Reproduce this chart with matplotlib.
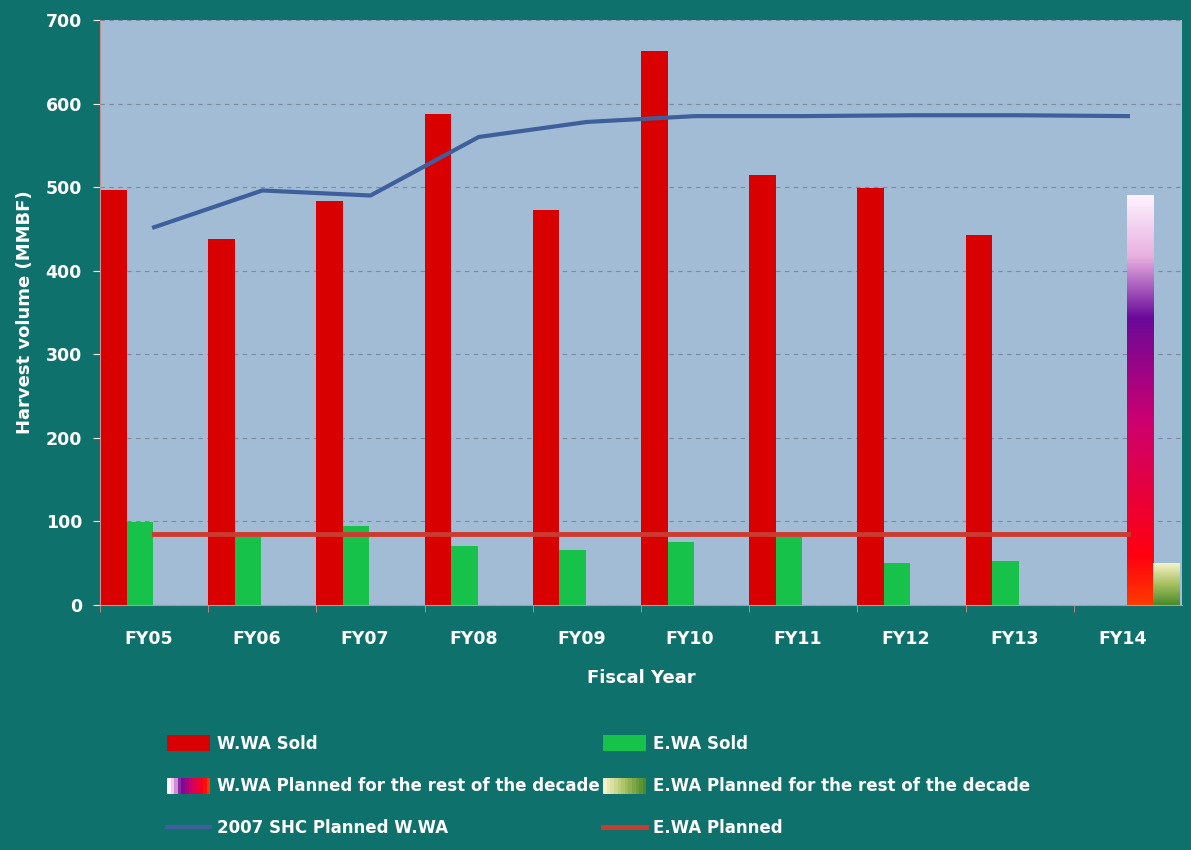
import numpy as np
import matplotlib
matplotlib.use("Agg")
import matplotlib.pyplot as plt
from matplotlib.patches import Rectangle
from matplotlib.lines import Line2D
from matplotlib.legend_handler import HandlerBase
from matplotlib.colors import LinearSegmentedColormap

years = ["FY05", "FY06", "FY07", "FY08", "FY09", "FY10", "FY11", "FY12", "FY13", "FY14"]
wwa_sold = [497, 438, 483, 588, 473, 663, 514, 499, 443, 0]
ewa_sold = [99, 81, 94, 71, 66, 75, 81, 50, 53, 0]
wwa_planned = [0, 0, 0, 0, 0, 0, 0, 0, 0, 491]
ewa_planned = [0, 0, 0, 0, 0, 0, 0, 0, 0, 50]
shc_wwa = [452, 496, 490, 560, 578, 585, 585, 586, 586, 585]
ewa_plan_line = [85, 85, 85, 85, 85, 85, 85, 85, 85, 85]

BG = "#0f716b"
PLOT_BG = "#a2bcd5"
RED = "#d80000"
GREEN = "#17c24a"
BLUE = "#3f5f9c"
LINE_RED = "#cc3b30"

w_cmap = LinearSegmentedColormap.from_list(
    "wplan", [(0.0, "#ff3a00"), (0.12, "#ff0010"), (0.45, "#cc0070"),
              (0.7, "#6a0a9a"), (0.85, "#e8b0e0"), (1.0, "#fff4ff")])
e_cmap = LinearSegmentedColormap.from_list(
    "eplan", [(0.0, "#4a8a2a"), (0.5, "#a8c060"), (1.0, "#f4f4c8")])


class GradientHandler(HandlerBase):
    def __init__(self, cmap):
        super().__init__()
        self.cmap = cmap

    def create_artists(self, legend, orig_handle, xdescent, ydescent,
                       width, height, fontsize, trans):
        n = 12
        arts = []
        for k in range(n):
            arts.append(Rectangle((-xdescent + k * width / n, -ydescent), width / n, height,
                                  facecolor=self.cmap(1 - k / (n - 1)), edgecolor="none",
                                  transform=trans))
        return arts


fig = plt.figure(figsize=(11.91, 8.5), dpi=100, facecolor=BG)
ax = fig.add_axes([100 / 1191, 1 - 605 / 850, 1082 / 1191, 585 / 850])
ax.set_facecolor(PLOT_BG)

x = np.arange(len(years))
bw = 0.245
b1 = ax.bar(x, wwa_sold, bw, align="edge", color=RED, zorder=2)
b2 = ax.bar(x + bw, ewa_sold, bw, align="edge", color=GREEN, zorder=2)
b3 = ax.bar(x + 2 * bw, wwa_planned, bw, align="edge", color="none", zorder=2)
b4 = ax.bar(x + 3 * bw, ewa_planned, bw, align="edge", color="none", zorder=2)

grad = np.linspace(0, 1, 256).reshape(-1, 1)
for bars, cmap in ((b3, w_cmap), (b4, e_cmap)):
    for r in bars:
        if r.get_height() <= 0:
            continue
        im = ax.imshow(grad, cmap=cmap, origin="lower", aspect="auto", zorder=2,
                       extent=(r.get_x(), r.get_x() + r.get_width(), 0, r.get_height()))
        im.set_clip_path(r)

ax.plot(x + 0.5, shc_wwa, color=BLUE, lw=3, zorder=3)
ax.plot(x + 0.5, ewa_plan_line, color=LINE_RED, lw=3.5, zorder=3)

ax.set_xlim(0, len(years))
ax.set_ylim(0, 700)
ax.set_yticks(range(0, 701, 100))
ax.set_xticks(x, minor=True)
ax.set_xticks(x + 0.45)
ax.set_xticklabels(years)
ax.tick_params(axis="x", which="major", length=0, pad=18)
ax.tick_params(axis="x", which="minor", length=5, color="#c89090")
ax.tick_params(axis="y", length=5, color="#c89090", pad=8)
ax.tick_params(colors="white", labelsize=12.5)
for lab in ax.get_xticklabels() + ax.get_yticklabels():
    lab.set_fontweight("bold")
ax.grid(axis="y", ls=(0, (4, 4)), color="#5a6a80", lw=0.8, alpha=0.6, zorder=1)
for s in ("top", "right"):
    ax.spines[s].set_visible(False)
for s in ("left", "bottom"):
    ax.spines[s].set_color("#c89090")

ax.set_ylabel("Harvest volume (MMBF)", color="white", fontsize=13, fontweight="bold", labelpad=8)
ax.set_xlabel("Fiscal Year", color="white", fontsize=13, fontweight="bold", labelpad=15)

h_ws = Rectangle((0, 0), 1, 1, facecolor=RED)
h_es = Rectangle((0, 0), 1, 1, facecolor=GREEN)
h_wp = Rectangle((0, 0), 1, 1)
h_ep = Rectangle((0, 0), 1, 1)
h_shc = Line2D([], [], color=BLUE, lw=3)
h_el = Line2D([], [], color=LINE_RED, lw=3.5)
handles = [h_ws, h_wp, h_shc, h_es, h_ep, h_el]
labels = ["W.WA Sold", "W.WA Planned for the rest of the decade", "2007 SHC Planned W.WA",
          "E.WA Sold", "E.WA Planned for the rest of the decade", "E.WA Planned"]
leg = fig.legend(handles, labels, ncol=2, loc="upper left", bbox_to_anchor=(152 / 1191, 1 - 720 / 850),
                 frameon=False, fontsize=12, labelcolor="white", handlelength=2.6,
                 handleheight=1.1, handletextpad=0.4, columnspacing=0.2, labelspacing=1.45,
                 handler_map={h_wp: GradientHandler(w_cmap), h_ep: GradientHandler(e_cmap)})
for t in leg.get_texts():
    t.set_fontweight("bold")

fig.savefig("out.png", dpi=100, facecolor=BG)
